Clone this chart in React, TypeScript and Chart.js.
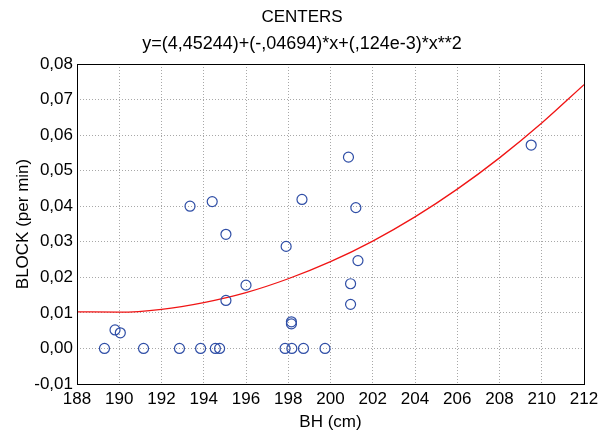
import React, { useEffect, useRef } from "react";
import { Chart, registerables } from "chart.js";

Chart.register(...registerables);

const titleText = "CENTERS";
const subtitleText = "y=(4,45244)+(-,04694)*x+(,124e-3)*x**2";
const xAxisTitle = "BH (cm)";
const yAxisTitle = "BLOCK (per min)";

const blockX = [
  189.3, 189.8, 190.05, 191.15, 192.85, 193.85, 194.55, 194.75, 193.35, 194.4,
  195.05, 196.0, 195.05, 197.9, 198.65, 198.15, 198.15, 197.85, 198.17, 198.72,
  199.74, 200.85, 201.2, 201.3, 200.95, 200.95, 209.5,
];
const blockY = [
  0.0, 0.0052, 0.0044, 0.0, 0.0, 0.0, 0.0, 0.0, 0.04, 0.0413,
  0.0321, 0.0178, 0.0135, 0.0287, 0.0419, 0.0075, 0.0069, 0.0, 0.0, 0.0,
  0.0, 0.0538, 0.0396, 0.0247, 0.0182, 0.0124, 0.0572,
];

const fitX = [188, 190, 192, 194, 196, 198, 200, 202, 204, 206, 208, 210, 212];
const fitY = [
  0.0103, 0.0102, 0.011, 0.0129, 0.0157, 0.0196, 0.0244, 0.0302, 0.037,
  0.0448, 0.0536, 0.0634, 0.0742,
];

const FONT = "'Liberation Sans', Arial, sans-serif";

const frame = {
  id: "frame",
  afterDraw(chart: any) {
    const { ctx, chartArea } = chart;
    ctx.save();
    ctx.strokeStyle = "#000";
    ctx.lineWidth = 1;
    ctx.setLineDash([]);
    ctx.strokeRect(
      Math.round(chartArea.left) + 0.5,
      Math.round(chartArea.top) + 0.5,
      Math.round(chartArea.right - chartArea.left),
      Math.round(chartArea.bottom - chartArea.top)
    );
    ctx.restore();
  },
};

export default function App() {
  const ref = useRef<HTMLCanvasElement | null>(null);

  useEffect(() => {
    if (!ref.current) return;
    const chart = new Chart(ref.current, {
      type: "scatter",
      data: {
        datasets: [
          {
            type: "line",
            data: fitX.map((x, i) => ({ x, y: fitY[i] })),
            borderColor: "#f01414",
            borderWidth: 1.3,
            pointRadius: 0,
            fill: false,
            cubicInterpolationMode: "monotone",
            order: 2,
          } as any,
          {
            data: blockX.map((x, i) => ({ x, y: blockY[i] })),
            pointRadius: 5,
            pointBorderColor: "#2f4ea6",
            pointBackgroundColor: "rgba(0,0,0,0)",
            pointBorderWidth: 1.2,
            showLine: false,
            order: 1,
          } as any,
        ],
      },
      plugins: [frame],
      options: {
        animation: false,
        responsive: false,
        layout: { padding: { left: 0, right: 0, top: 0, bottom: 0 } },
        plugins: {
          legend: { display: false },
          tooltip: { enabled: false },
          title: {
            display: true,
            text: titleText,
            color: "#000",
            font: { family: FONT, size: 17, weight: "normal" },
            padding: { top: 7, bottom: 6 },
          },
          subtitle: {
            display: true,
            text: subtitleText,
            color: "#000",
            font: { family: FONT, size: 18, weight: "normal" },
            padding: { top: 0, bottom: 9 },
          },
        },
        scales: {
          x: {
            type: "linear",
            min: 188,
            max: 212,
            ticks: {
              stepSize: 2,
              color: "#000",
              padding: 5,
              font: { family: FONT, size: 17 },
              maxRotation: 0,
            },
            grid: {
              color: "#a8a8a8",
              drawTicks: false,
              lineWidth: 1,
            },
            border: { display: false, dash: [1, 2] },
            title: {
              display: true,
              text: xAxisTitle,
              color: "#000",
              font: { family: FONT, size: 17 },
              padding: { top: 0, bottom: 4 },
            },
            afterFit(scale: any) {
              scale.height = 53;
            },
          } as any,
          y: {
            type: "linear",
            min: -0.01,
            max: 0.08,
            ticks: {
              stepSize: 0.01,
              color: "#000",
              padding: 4,
              font: { family: FONT, size: 17 },
              callback: (v: any) => {
                let n = Math.round(Number(v) * 100) / 100;
                if (Math.abs(n) < 1e-9) n = 0;
                return n.toFixed(2).replace(".", ",");
              },
            },
            grid: {
              color: "#a8a8a8",
              drawTicks: false,
              lineWidth: 1,
            },
            border: { display: false, dash: [1, 2] },
            title: {
              display: true,
              text: yAxisTitle,
              color: "#000",
              font: { family: FONT, size: 17 },
              padding: { top: 13, bottom: 0 },
            },
            afterFit(scale: any) {
              scale.width = 77;
            },
          } as any,
          yRight: {
            type: "linear",
            position: "right",
            min: -0.01,
            max: 0.08,
            display: true,
            ticks: { display: false },
            grid: { display: false, drawOnChartArea: false, drawTicks: false },
            border: { display: false },
            afterFit(scale: any) {
              scale.width = 20;
            },
          } as any,
        },
      },
    });
    return () => chart.destroy();
  }, []);

  return (
    <div style={{ position: "fixed", left: 0, top: 0, width: 604, height: 437, background: "#fff" }}>
      <canvas ref={ref} width={604} height={437} style={{ width: 604, height: 437 }} />
    </div>
  );
}
